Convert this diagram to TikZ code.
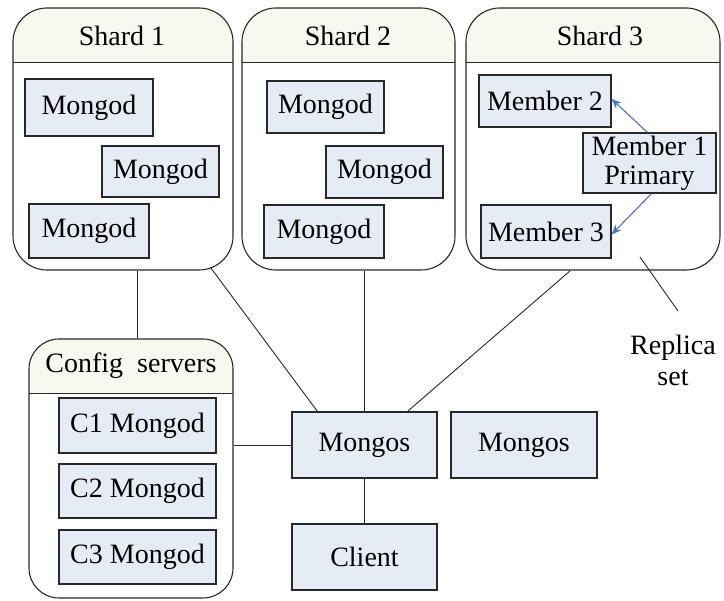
\documentclass[tikz,border=0pt]{standalone}
\usepackage{fontspec}
\setmainfont{Liberation Serif}
\usetikzlibrary{arrows.meta,calc}
\definecolor{boxfill}{RGB}{230,236,246}
\definecolor{headfill}{RGB}{248,248,238}
\definecolor{edge}{RGB}{40,40,40}
\definecolor{linkblue}{RGB}{74,114,192}
\begin{document}
\begin{tikzpicture}[x=1pt,y=-1pt,
  font=\fontsize{28}{31}\selectfont,
  box/.style={draw=edge, line width=1.1pt, fill=boxfill, inner sep=0pt, align=center},
  group/.style={draw=edge, line width=1.1pt, inner sep=0pt, rounded corners=34pt,
    path picture={
      \fill[headfill, sharp corners] (path picture bounding box.north west)
        rectangle ([yshift=-54.5pt]path picture bounding box.north east);
      \draw[edge, line width=1.1pt, sharp corners]
        ([yshift=-54.5pt]path picture bounding box.north west) --
        ([yshift=-54.5pt]path picture bounding box.north east);}},
  title/.style={inner sep=0pt},
  link/.style={draw=edge, line width=0.9pt},
  repl/.style={draw=linkblue, line width=1.1pt, -{Stealth[length=10pt,width=8pt]}}]

\useasboundingbox (0,0) rectangle (724,601);

% shard containers
\node[group, minimum width=220pt, minimum height=262pt] (s1) at (123,139) {};
\node[group, minimum width=213pt, minimum height=262pt] (s2) at (348.5,139) {};
\node[group, minimum width=254pt, minimum height=262pt] (s3) at (593,139) {};
\node[title] at (122,36) {Shard 1};
\node[title] at (348,36) {Shard 2};
\node[title] at (600,36) {Shard 3};

% shard 1 members
\node[box, minimum width=128pt, minimum height=57pt] (m11) at (89,107.5) {Mongod};
\node[box, minimum width=117pt, minimum height=51pt] (m12) at (160.5,171.5) {Mongod};
\node[box, minimum width=120pt, minimum height=54pt] (m13) at (89,231) {Mongod};

% shard 2 members
\node[box, minimum width=117pt, minimum height=52pt] (m21) at (325.5,107) {Mongod};
\node[box, minimum width=117pt, minimum height=52pt] (m22) at (384.5,172) {Mongod};
\node[box, minimum width=120pt, minimum height=53pt] (m23) at (324,231.5) {Mongod};

% shard 3 replica set
\node[box, minimum width=132pt, minimum height=52pt] (mem2) at (545,101) {Member 2};
\node[box, minimum width=133pt, minimum height=60pt] (mem1) at (649.5,163) {Member 1\\[-2pt]Primary};
\node[box, minimum width=130pt, minimum height=53pt] (mem3) at (546,231.5) {Member 3};
\draw[repl] ([xshift=-2pt]mem1.north) -- ([yshift=2pt]mem2.east);
\draw[repl] ([xshift=2pt]mem1.south) -- ([yshift=-3pt]mem3.east);

% replica set label
\coordinate (rsp) at (640,257);
\node[title, align=center, anchor=north] (rs) at (673,335) {Replica\\set};
\draw[link] (rsp) -- ($(rs.north)+(5,-24)$);

% config servers
\node[group, minimum width=204pt, minimum height=259pt, rounded corners=30pt] (cfg) at (131,468.5) {};
\node[title] at (131,366) {Config\ \ servers};
\node[box, minimum width=157pt, minimum height=55pt] (c1) at (137.5,425.5) {C1 Mongod};
\node[box, minimum width=157pt, minimum height=54pt] (c2) at (137.5,491) {C2 Mongod};
\node[box, minimum width=157pt, minimum height=54pt] (c3) at (137.5,557) {C3 Mongod};

% routers and client
\node[box, minimum width=145pt, minimum height=66pt] (mg) at (364.5,445) {Mongos};
\node[box, minimum width=146pt, minimum height=66pt] (mg2) at (524,445) {Mongos};
\node[box, minimum width=145pt, minimum height=66pt] (cl) at (364.5,557) {Client};

% connectors
\draw[link] ([xshift=6pt]cfg.north) -- ([xshift=6pt]cfg.north |- s1.south);
\draw[link] ($(s1.south east)+(-23,-3)$) -- ($(mg.north west)+(26,0)$);
\draw[link] (mg.north) -- (mg.north |- s2.south);
\draw[link] ($(s3.south west)+(105,0)$) -- ($(mg.north west)+(116,0)$);
\draw[link] (mg.west) -- (mg.west -| cfg.east);
\draw[link] (mg.south) -- (cl.north);
\end{tikzpicture}
\end{document}
